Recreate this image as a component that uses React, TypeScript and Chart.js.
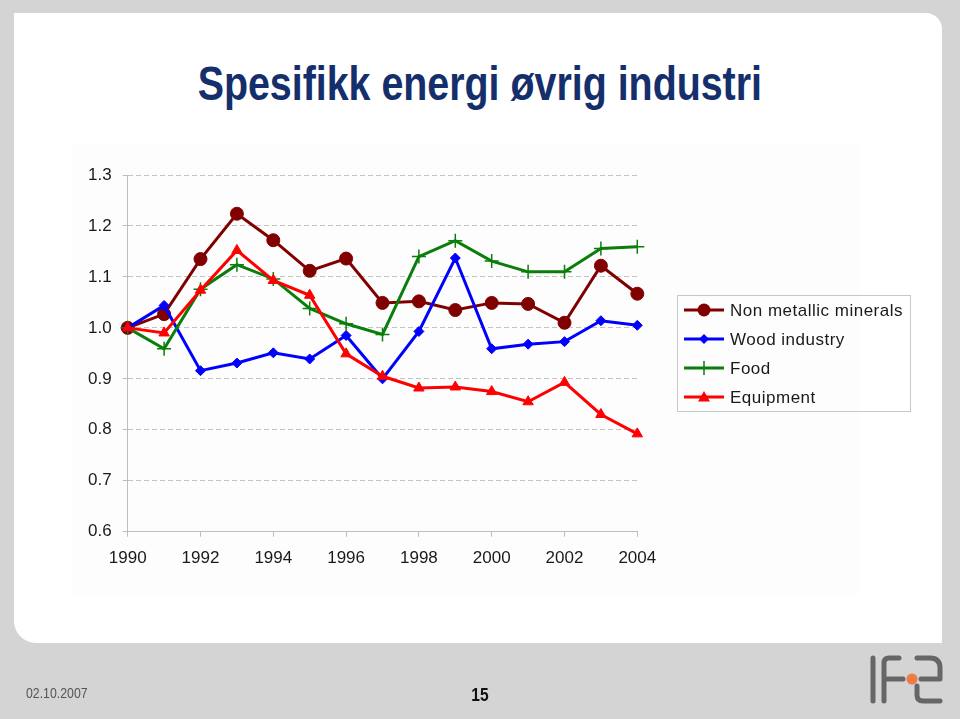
import React, { useEffect, useRef } from "react";
import { Chart, registerables } from "chart.js";

Chart.register(...registerables);

const years = [1990, 1991, 1992, 1993, 1994, 1995, 1996, 1997, 1998, 1999, 2000, 2001, 2002, 2003, 2004];
const nonMetallic = [1.0, 1.027, 1.135, 1.224, 1.172, 1.112, 1.136, 1.049, 1.052, 1.035, 1.049, 1.047, 1.01, 1.122, 1.067];
const woodIndustry = [1.0, 1.044, 0.916, 0.931, 0.951, 0.939, 0.985, 0.9, 0.993, 1.137, 0.959, 0.968, 0.973, 1.014, 1.005];
const food = [1.0, 0.959, 1.076, 1.124, 1.096, 1.038, 1.008, 0.987, 1.14, 1.171, 1.131, 1.11, 1.11, 1.156, 1.159];
const equipment = [1.0, 0.99, 1.074, 1.152, 1.093, 1.064, 0.949, 0.905, 0.882, 0.884, 0.875, 0.855, 0.893, 0.83, 0.792];
const seriesNames = ["Non metallic minerals", "Wood industry", "Food", "Equipment"];
const yMin = 0.6;
const yMax = 1.3;
const yStep = 0.1;
const xStep = 2;

const toPoints = (vals: number[]) => vals.map((v, i) => ({ x: years[i], y: v }));

function drawMarker(ctx: CanvasRenderingContext2D, style: string, x: number, y: number, color: string) {
  ctx.save();
  ctx.fillStyle = color;
  ctx.strokeStyle = color;
  ctx.setLineDash([]);
  if (style === "circle") {
    ctx.beginPath();
    ctx.arc(x, y, 6.5, 0, Math.PI * 2);
    ctx.fill();
  } else if (style === "rectRot") {
    ctx.beginPath();
    ctx.moveTo(x, y - 5);
    ctx.lineTo(x + 5, y);
    ctx.lineTo(x, y + 5);
    ctx.lineTo(x - 5, y);
    ctx.closePath();
    ctx.fill();
  } else if (style === "cross") {
    ctx.lineWidth = 1.5;
    ctx.beginPath();
    ctx.moveTo(x, y - 7);
    ctx.lineTo(x, y + 7);
    ctx.stroke();
  } else if (style === "triangle") {
    ctx.beginPath();
    ctx.moveTo(x, y - 6);
    ctx.lineTo(x + 6, y + 4.5);
    ctx.lineTo(x - 6, y + 4.5);
    ctx.closePath();
    ctx.fill();
  }
  ctx.restore();
}

const legendPlugin = {
  id: "customLegend",
  afterDraw(chart: any) {
    const ctx: CanvasRenderingContext2D = chart.ctx;
    ctx.save();
    ctx.strokeStyle = "#c8c8c8";
    ctx.lineWidth = 1;
    ctx.setLineDash([]);
    ctx.strokeRect(677.5, 295.5, 233, 116);
    chart.data.datasets.forEach((ds: any, i: number) => {
      const cy = 310 + i * 29;
      ctx.strokeStyle = ds.borderColor;
      ctx.lineWidth = 3;
      ctx.beginPath();
      ctx.moveTo(684, cy);
      ctx.lineTo(724, cy);
      ctx.stroke();
      drawMarker(ctx, ds.pointStyle, 704, cy, ds.borderColor);
      ctx.fillStyle = "#1a1a1a";
      ctx.font = '17px "Liberation Sans", Arial, sans-serif';
      (ctx as any).letterSpacing = "0.5px";
      ctx.textBaseline = "middle";
      ctx.textAlign = "left";
      ctx.fillText(ds.label, 730, cy + 1);
    });
    ctx.restore();
  },
};

export default function App() {
  const canvasRef = useRef<HTMLCanvasElement | null>(null);

  useEffect(() => {
    if (!canvasRef.current) return;
    const chart = new Chart(canvasRef.current, {
      type: "line",
      data: {
        datasets: [
          {
            label: seriesNames[0],
            data: toPoints(nonMetallic),
            borderColor: "#800000",
            backgroundColor: "#800000",
            borderWidth: 3,
            pointStyle: "circle",
            pointRadius: 6.5,
            pointBorderWidth: 1,
            order: 4,
            clip: false,
          },
          {
            label: seriesNames[1],
            data: toPoints(woodIndustry),
            borderColor: "#0000ff",
            backgroundColor: "#0000ff",
            borderWidth: 3,
            pointStyle: "rectRot",
            pointRadius: 5,
            pointBorderWidth: 1,
            order: 3,
            clip: false,
          },
          {
            label: seriesNames[2],
            data: toPoints(food),
            borderColor: "#0a7d0a",
            backgroundColor: "#0a7d0a",
            borderWidth: 3,
            pointStyle: "cross",
            pointRadius: 7,
            pointBorderWidth: 1.5,
            order: 2,
            clip: false,
          },
          {
            label: seriesNames[3],
            data: toPoints(equipment),
            borderColor: "#ff0000",
            backgroundColor: "#ff0000",
            borderWidth: 3,
            pointStyle: "triangle",
            pointRadius: 6,
            pointBorderWidth: 1,
            order: 1,
            clip: false,
          },
        ],
      },
      options: {
        responsive: false,
        animation: false,
        devicePixelRatio: 1,
        layout: { padding: { left: 80, top: 175, right: 322.7, bottom: 147.3 } },
        plugins: { legend: { display: false }, tooltip: { enabled: false }, title: { display: false } },
        elements: { line: { tension: 0 } },
        scales: {
          x: {
            type: "linear",
            min: years[0],
            max: years[years.length - 1],
            ticks: {
              stepSize: xStep,
              color: "#1a1a1a",
              font: { family: '"Liberation Sans", Arial, sans-serif', size: 17 },
              padding: 11,
              maxRotation: 0,
              callback: (v: any) => String(v),
            },
            grid: { drawOnChartArea: false, drawTicks: true, tickLength: 5, color: "#bdbdbd", tickColor: "#bdbdbd" },
            border: { display: true, color: "#bdbdbd", width: 1 },
            afterFit: (s: any) => {
              s.height = 40;
            },
          },
          y: {
            type: "linear",
            min: yMin,
            max: yMax,
            ticks: {
              stepSize: yStep,
              color: "#1a1a1a",
              font: { family: '"Liberation Sans", Arial, sans-serif', size: 17 },
              padding: 11,
              callback: (v: any) => Number(v).toFixed(1),
            },
            grid: {
              drawOnChartArea: true,
              drawTicks: true,
              tickLength: 5,
              color: "#c4c4c4",
              tickColor: "#bdbdbd",
              tickBorderDash: [],
            },
            border: { display: true, color: "#bdbdbd", width: 1, dash: [5, 3] },
            afterFit: (s: any) => {
              s.width = 47.7;
            },
          },
        },
      },
      plugins: [legendPlugin],
    } as any);
    return () => chart.destroy();
  }, []);

  return (
    <div
      style={{
        position: "absolute",
        left: 0,
        top: 0,
        width: 960,
        height: 719,
        background: "#d4d4d4",
        overflow: "hidden",
        fontFamily: '"Liberation Sans", Arial, sans-serif',
      }}
    >
      <div
        style={{
          position: "absolute",
          left: 14,
          top: 13,
          width: 928,
          height: 630,
          background: "#ffffff",
          borderTopRightRadius: 16,
          borderBottomLeftRadius: 22,
        }}
      />
      <div style={{ position: "absolute", left: 72, top: 143, width: 788, height: 452, background: "#fdfdfd" }} />
      <div
        style={{
          position: "absolute",
          left: 0,
          top: 60,
          width: 960,
          textAlign: "center",
          fontSize: 48,
          lineHeight: "48px",
          fontWeight: "bold",
          color: "#142f6c",
          transform: "scaleX(0.82)",
          transformOrigin: "479px 0",
          whiteSpace: "nowrap",
        }}
      >
        Spesifikk energi øvrig industri
      </div>
      <canvas ref={canvasRef} width={960} height={719} style={{ position: "absolute", left: 0, top: 0, width: 960, height: 719 }} />
      <div
        style={{
          position: "absolute",
          left: 26,
          top: 684,
          fontSize: 15,
          lineHeight: "18px",
          color: "#555555",
          transform: "scaleX(0.82)",
          transformOrigin: "0 0",
          whiteSpace: "nowrap",
        }}
      >
        02.10.2007
      </div>
      <div
        style={{
          position: "absolute",
          left: 430,
          width: 100,
          top: 684,
          fontSize: 19,
          lineHeight: "22px",
          fontWeight: "bold",
          color: "#111111",
          textAlign: "center",
          transform: "scaleX(0.82)",
          transformOrigin: "50px 0",
        }}
      >
        15
      </div>
      <svg width={960} height={719} style={{ position: "absolute", left: 0, top: 0 }}>
        <g fill="none" stroke="#666666" strokeWidth={5} strokeLinecap="round" strokeLinejoin="round">
          <path d="M873 658 V701" />
          <path d="M884 701 V663 Q884 658 889 658 H899" />
          <path d="M887 679 H903" />
          <path d="M917 658 H930 Q940 658 940 668 V679 H921" />
          <path d="M917 686 V695 Q917 701 923 701 H940" />
        </g>
        <circle cx={912} cy={679} r={5.5} fill="#f07a45" />
      </svg>
    </div>
  );
}
